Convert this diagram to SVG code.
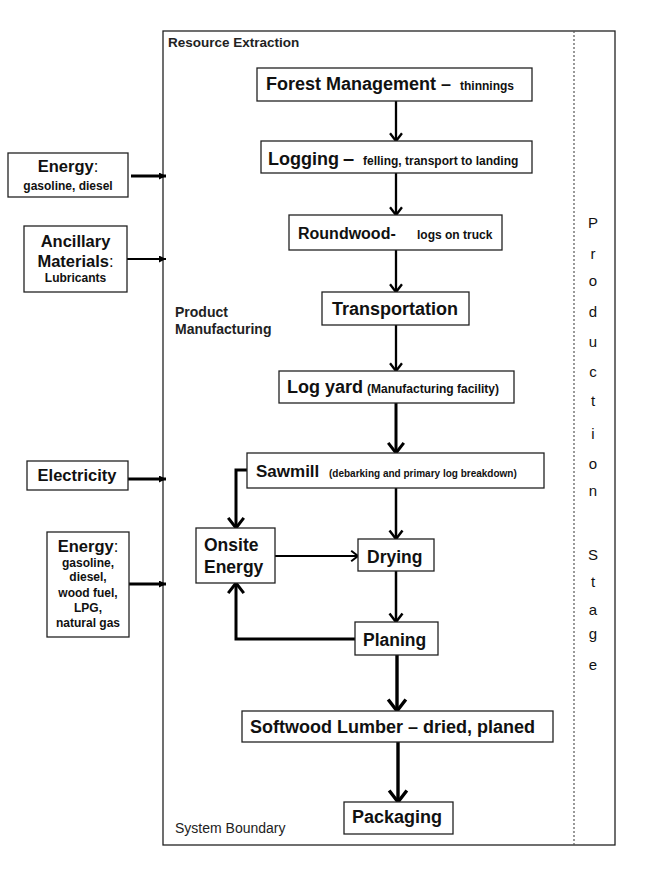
<svg xmlns="http://www.w3.org/2000/svg" width="664" height="871" viewBox="0 0 664 871">
<defs>
<style>
.box{fill:#fff;stroke:#222;stroke-width:1.3}
.t{font-family:"Liberation Sans",Arial,sans-serif;font-weight:bold;fill:#111}
.c{fill:none;stroke:#000;stroke-linejoin:miter}
.lbl{font-family:"Liberation Sans",Arial,sans-serif;fill:#222}
.ps{font-family:"Liberation Sans",Arial,sans-serif;font-size:15px;fill:#111;text-anchor:middle}
</style>
<marker id="chev" viewBox="-5 -4 6 8" refX="0" refY="0" markerWidth="6" markerHeight="8" markerUnits="strokeWidth" orient="auto">
<path d="M-3.4,-2.6 L0,0 L-3.4,2.6" fill="none" stroke="#000" stroke-width="1"/>
</marker>
<marker id="tri" viewBox="0 0 10 10" refX="10" refY="5" markerWidth="8" markerHeight="7" markerUnits="userSpaceOnUse" orient="auto">
<path d="M0,0 L10,5 L0,10 Z" fill="#000"/>
</marker>
</defs>
<rect width="664" height="871" fill="#fff"/>

<g id="boundary">
<rect x="163" y="31" width="452" height="814" fill="none" stroke="#222" stroke-width="1.3"/>
<line x1="574" y1="31" x2="574" y2="845" stroke="#555" stroke-width="1.2" stroke-dasharray="2,2"/>
<text class="lbl" x="168" y="47" font-size="13.5" font-weight="bold">Resource Extraction</text>
<text class="lbl" x="175" y="317" font-size="14" font-weight="bold">Product</text>
<text class="lbl" x="175" y="334" font-size="14" font-weight="bold">Manufacturing</text>
<text class="lbl" x="175" y="833" font-size="14">System Boundary</text>
</g>

<g id="production-stage">
<text class="ps" x="593" y="228">P</text>
<text class="ps" x="593" y="259">r</text>
<text class="ps" x="593" y="286">o</text>
<text class="ps" x="593" y="317">d</text>
<text class="ps" x="593" y="347">u</text>
<text class="ps" x="593" y="377">c</text>
<text class="ps" x="593" y="406">t</text>
<text class="ps" x="593" y="439">i</text>
<text class="ps" x="593" y="469">o</text>
<text class="ps" x="593" y="496">n</text>
<text class="ps" x="593" y="560">S</text>
<text class="ps" x="593" y="587">t</text>
<text class="ps" x="593" y="615">a</text>
<text class="ps" x="593" y="639">g</text>
<text class="ps" x="593" y="670">e</text>
</g>

<g id="connectors">
<path class="c" d="M396,101 V141" stroke-width="2.3" marker-end="url(#chev)"/>
<path class="c" d="M396,173 V215" stroke-width="2.3" marker-end="url(#chev)"/>
<path class="c" d="M396,250 V292" stroke-width="2.3" marker-end="url(#chev)"/>
<path class="c" d="M396,325 V371" stroke-width="2.3" marker-end="url(#chev)"/>
<path class="c" d="M396,403 V453" stroke-width="3" marker-end="url(#chev)"/>
<path class="c" d="M396,488 V539" stroke-width="2.5" marker-end="url(#chev)"/>
<path class="c" d="M396,571 V622" stroke-width="2.5" marker-end="url(#chev)"/>
<path class="c" d="M397,655 V711" stroke-width="3.4" marker-end="url(#chev)"/>
<path class="c" d="M398,742 V802" stroke-width="3.4" marker-end="url(#chev)"/>
<path class="c" d="M247,470 H236 V528" stroke-width="3" marker-end="url(#chev)"/>
<path class="c" d="M275,556 H358" stroke-width="2" marker-end="url(#chev)"/>
<path class="c" d="M355,639 H236 V583" stroke-width="3" marker-end="url(#chev)"/>
<path class="c" d="M131,176 H166" stroke-width="3" marker-end="url(#tri)"/>
<path class="c" d="M127,259 H166" stroke-width="2" marker-end="url(#tri)"/>
<path class="c" d="M128,479 H166" stroke-width="3" marker-end="url(#tri)"/>
<path class="c" d="M129,584 H166" stroke-width="3" marker-end="url(#tri)"/>
</g>

<g id="forest-management">
<rect class="box" x="257" y="68" width="275" height="33"/>
<text class="t" x="266" y="90" font-size="18">Forest Management<tspan x="441">–</tspan><tspan x="460" font-size="12">thinnings</tspan></text>
</g>
<g id="logging">
<rect class="box" x="261" y="141" width="271" height="32"/>
<text class="t" x="268" y="165" font-size="18">Logging<tspan x="343" font-size="20">–</tspan><tspan x="363" font-size="12">felling, transport to landing</tspan></text>
</g>
<g id="roundwood">
<rect class="box" x="289" y="215" width="213" height="35"/>
<text class="t" x="298" y="239" font-size="16">Roundwood-<tspan x="417" font-size="12">logs on truck</tspan></text>
</g>
<g id="transportation">
<rect class="box" x="322" y="292" width="147" height="33"/>
<text class="t" x="332" y="315" font-size="18">Transportation</text>
</g>
<g id="log-yard">
<rect class="box" x="279" y="371" width="235" height="32"/>
<text class="t" x="287" y="393" font-size="18">Log yard<tspan x="367" font-size="12">(Manufacturing facility)</tspan></text>
</g>
<g id="sawmill">
<rect class="box" x="247" y="453" width="297" height="35"/>
<text class="t" x="256" y="477" font-size="17">Sawmill<tspan x="329" font-size="10">(debarking and primary log breakdown)</tspan></text>
</g>
<g id="onsite-energy">
<rect class="box" x="196" y="528" width="79" height="55"/>
<text class="t" x="204" y="551" font-size="17.5">Onsite</text>
<text class="t" x="204" y="573" font-size="17.5">Energy</text>
</g>
<g id="drying">
<rect class="box" x="358" y="539" width="76" height="32"/>
<text class="t" x="367" y="563" font-size="17.5">Drying</text>
</g>
<g id="planing">
<rect class="box" x="355" y="622" width="83" height="33"/>
<text class="t" x="363" y="646" font-size="17.5">Planing</text>
</g>
<g id="softwood-lumber">
<rect class="box" x="242" y="711" width="311" height="31"/>
<text class="t" x="250" y="733" font-size="18">Softwood Lumber – dried, planed</text>
</g>
<g id="packaging">
<rect class="box" x="344" y="802" width="109" height="32"/>
<text class="t" x="352" y="823" font-size="18">Packaging</text>
</g>

<g id="energy-input-1">
<rect class="box" x="8" y="153" width="120" height="44"/>
<text class="t" x="68" y="172" font-size="16.5" text-anchor="middle">Energy<tspan font-weight="normal">:</tspan></text>
<text class="t" x="68" y="190" font-size="12" text-anchor="middle">gasoline, diesel</text>
</g>
<g id="ancillary-materials">
<rect class="box" x="24" y="226" width="103" height="66"/>
<text class="t" x="75.5" y="247" font-size="16.5" text-anchor="middle">Ancillary</text>
<text class="t" x="75.5" y="267" font-size="16.5" text-anchor="middle">Materials<tspan font-weight="normal">:</tspan></text>
<text class="t" x="75.5" y="282" font-size="12" text-anchor="middle">Lubricants</text>
</g>
<g id="electricity">
<rect class="box" x="27" y="461" width="101" height="29"/>
<text class="t" x="77" y="481" font-size="16.5" text-anchor="middle">Electricity</text>
</g>
<g id="energy-input-2">
<rect class="box" x="47" y="532" width="82" height="105"/>
<text class="t" x="88" y="552" font-size="16.5" text-anchor="middle">Energy<tspan font-weight="normal">:</tspan></text>
<text class="t" x="88" y="567" font-size="12" text-anchor="middle">gasoline,</text>
<text class="t" x="88" y="581" font-size="12" text-anchor="middle">diesel,</text>
<text class="t" x="88" y="597" font-size="12" text-anchor="middle">wood fuel,</text>
<text class="t" x="88" y="612" font-size="12" text-anchor="middle">LPG,</text>
<text class="t" x="88" y="627" font-size="12" text-anchor="middle">natural gas</text>
</g>
</svg>
